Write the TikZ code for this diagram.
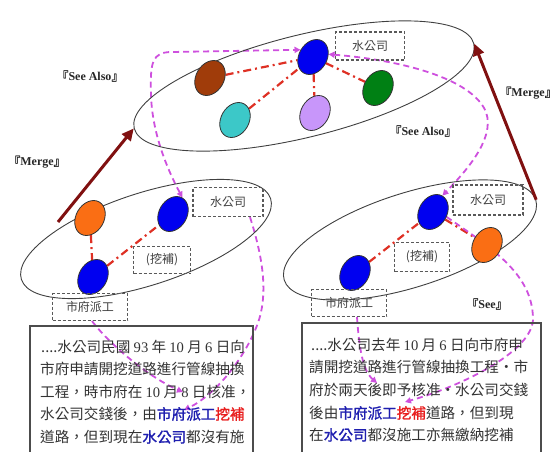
\documentclass[tikz,border=0pt]{standalone}
\usepackage{fontspec}
\setmainfont{Liberation Serif}
\newfontfamily\cjk[AutoFakeBold=1.5]{Noto Sans CJK TC}
\usetikzlibrary{shapes.geometric,arrows.meta,backgrounds}
\definecolor{mroon}{RGB}{128,16,16}
\definecolor{pnk}{RGB}{206,80,222}
\definecolor{rdc}{RGB}{222,48,36}
\definecolor{tblue}{RGB}{30,30,175}
\definecolor{tred}{RGB}{232,30,30}
\definecolor{cbrown}{RGB}{160,60,10}
\definecolor{cblue}{RGB}{0,0,240}
\definecolor{cgreen}{RGB}{0,128,20}
\definecolor{ccyan}{RGB}{60,200,200}
\definecolor{clilac}{RGB}{200,150,250}
\definecolor{corange}{RGB}{250,110,20}
\newcommand\numr[1]{{\rmfamily #1}}
\newcommand\bl[1]{{\color{tblue}\bfseries #1}}
\newcommand\rd[1]{{\color{tred}\bfseries #1}}
\begin{document}
\begin{tikzpicture}[x=1pt,y=-1pt,
  blob/.style={ellipse, draw=black!80, line width=0.8pt, minimum width=28pt, minimum height=37pt, inner sep=0pt, rotate=-30},
  bigell/.style={ellipse, draw=black!75, line width=0.9pt, inner sep=0pt},
  dbox/.style={draw=black!65, dash pattern=on 3pt off 2pt, line width=1.1pt, inner sep=0pt, font=\cjk\fontsize{12}{14}\selectfont, text=black!75},
  lab/.style={font=\bfseries\fontsize{12}{14}\selectfont, text=black!85, inner sep=0pt},
  merge/.style={draw=mroon, line width=3pt, -{Triangle[length=12pt,width=11pt]}},
  pk/.style={draw=pnk, line width=1.8pt, dash pattern=on 6pt off 4pt},
  pkarr/.style={-{Triangle[length=6pt,width=6pt]}},
  pkboth/.style={{Triangle[length=6pt,width=6pt]}-{Triangle[length=6pt,width=6pt]}},
  rdd/.style={draw=rdc, line width=2.2pt, dash pattern=on 8pt off 4pt on 2pt off 4pt},
  tline/.style={anchor=west, inner sep=0pt, font=\cjk\fontsize{14.6}{16}\selectfont, text=black!80},
  tbox/.style={draw=black!70, line width=1.2pt}]
\useasboundingbox (0,0) rectangle (558,451);

% big container ellipses
\node[bigell, minimum width=350pt, minimum height=102pt, rotate=14] (topE) at (304,86) {};
\node[bigell, minimum width=262pt, minimum height=92pt, rotate=18] (lE) at (146,239) {};
\node[bigell, minimum width=264pt, minimum height=94pt, rotate=17.7] (rE) at (410,240) {};

% coloured entities
\node[blob, fill=cbrown] (tbr) at (210,78) {};
\node[blob, fill=cblue] (tb) at (313,57) {};
\node[blob, fill=cgreen] (tg) at (378,88) {};
\node[blob, fill=ccyan] (tc) at (235,120) {};
\node[blob, fill=clilac] (tl) at (315,113) {};
\node[blob, fill=corange] (lo) at (90,218) {};
\node[blob, fill=cblue] (lbt) at (173,214) {};
\node[blob, fill=cblue] (lbb) at (93,277) {};
\node[blob, fill=cblue] (rbt) at (433,212) {};
\node[blob, fill=corange] (ro) at (487,245) {};
\node[blob, fill=cblue] (rbb) at (355,273) {};

% dashed label boxes
\node[dbox, minimum width=69pt, minimum height=28pt] (tsw) at (370,46) {水公司};
\node[dbox, minimum width=70pt, minimum height=29pt] (lsw) at (228,202) {水公司};
\node[dbox, minimum width=57pt, minimum height=27pt] (lwb) at (162,260) {(挖補)};
\node[dbox, minimum width=75pt, minimum height=27pt] (lsf) at (90,307) {市府派工};
\node[dbox, minimum width=70pt, minimum height=30pt] (rsw) at (488,200) {水公司};
\node[dbox, minimum width=55pt, minimum height=29pt] (rwb) at (422,257) {(挖補)};
\node[dbox, minimum width=75pt, minimum height=27pt] (rsf) at (349,303) {市府派工};

% labels
\node[lab] (sa1) at (90,76) {{\cjk 『}See Also{\cjk 』}};
\node[lab] (mg1) at (37,162) {{\cjk 『}Merge{\cjk 』}};
\node[lab] (sa2) at (423,131) {{\cjk 『}See Also{\cjk 』}};
\node[lab, anchor=east] (mg2) at (557,93) {{\cjk 『}Merge{\cjk 』}};
\node[lab] (see) at (487,304) {{\cjk 『}See{\cjk 』}};

% text boxes
\draw[tbox] (30,452) |- (253,326) -- (253,452);
\draw[tbox] (302,452) |- (541,323) -- (541,452);
\node[tline] (l1) at (41,347) {....水公司民國 \numr{93} 年 \numr{10} 月 \numr{6} 日向};
\node[tline] (l2) at (40,369) {市府申請開挖道路進行管線抽換};
\node[tline] (l3) at (40,392) {工程，時市府在 \numr{10} 月 \numr{8} 日核准，};
\node[tline] (l4) at (40,414) {水公司交錢後，由\bl{市府派工}\rd{挖補}};
\node[tline] (l5) at (40,437) {道路，但到現在\bl{水公司}都沒有施};
\node[tline] (r1) at (311,345) {....水公司去年 \numr{10} 月 \numr{6} 日向市府申};
\node[tline] (r2) at (309,367) {請開挖道路進行管線抽換工程‧市};
\node[tline] (r3) at (309,390) {府於兩天後即予核准‧水公司交錢};
\node[tline] (r4) at (309,413) {後由\bl{市府派工}\rd{挖補}道路，但到現};
\node[tline] (r5) at (309,435) {在\bl{水公司}都沒施工亦無繳納挖補};

\coordinate (lend) at (184,410);
\coordinate (l8) at (183,392);
\coordinate (rend) at (405,402);
\coordinate (r8) at (377,383);
\coordinate (m1s) at (58,222);

\begin{scope}[on background layer]
% relation lines
\draw[rdd] (tbr) -- (tb);
\draw[rdd] (tc) -- (tb);
\draw[rdd] (tb) -- (tl);
\draw[rdd] (tb) -- (tg);
\draw[rdd] (lo) -- (lbb);
\draw[rdd] (lbb) -- (lbt);
\draw[rdd] (rbt) -- (ro);
\draw[rdd] (rbb) -- (rbt);
% see-also / see links
\draw[pk, pkboth] (lbt.north) .. controls (165,165) and (152,130) .. (151,95) .. controls (150,62) and (152,52) .. (172,52) -- (tb.west);
\draw[pk, pkboth] (tb.40) .. controls (400,60) and (472,78) .. (486,112) .. controls (496,140) and (462,175) .. (rbt.north);
\draw[pk, pkarr] ([xshift=22pt]lsw.south) .. controls (262,255) and (270,295) .. (256,328) .. controls (243,360) and (215,395) .. (lend);
\draw[pk, pkarr] ([xshift=2pt]lsf.south) .. controls (110,345) and (150,378) .. (l8);
\draw[pk, pkarr] (rbt.10) .. controls (495,250) and (532,275) .. (533,318) .. controls (534,350) and (465,385) .. (rend);
\draw[pk, pkarr] ([xshift=8pt]rsf.south) .. controls (359,345) and (362,370) .. (r8);
\end{scope}

% merge arrows
\draw[merge] (m1s) -- (topE.west);
\draw[merge] (rE.east) -- (topE.east);
\end{tikzpicture}
\end{document}
